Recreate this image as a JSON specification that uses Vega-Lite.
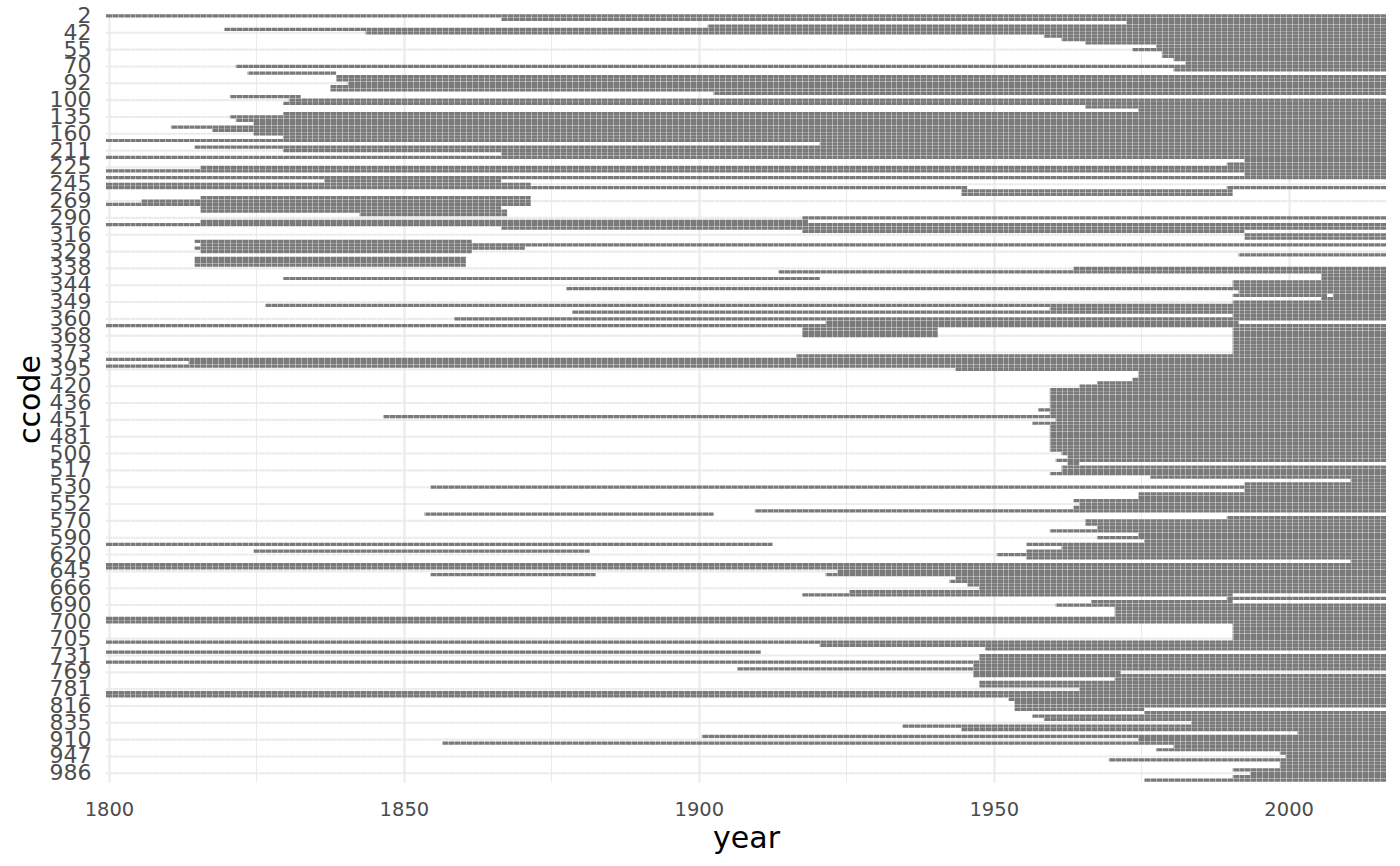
{
  "$schema": "https://vega.github.io/schema/vega-lite/v6.json",
  "autosize": {"type": "none"},
  "padding": {"left": 106, "right": 14, "top": 14, "bottom": 84},
  "width": 1280,
  "height": 768,
  "background": "#ffffff",
  "config": {"view": {"stroke": null}},
  "data": {"values": [
    {"ccode": 2, "start": 1800, "end": 2016},
    {"ccode": 20, "start": 1867, "end": 2016},
    {"ccode": 31, "start": 1973, "end": 2016},
    {"ccode": 40, "start": 1902, "end": 2016},
    {"ccode": 41, "start": 1820, "end": 2016},
    {"ccode": 42, "start": 1844, "end": 2016},
    {"ccode": 51, "start": 1959, "end": 2016},
    {"ccode": 52, "start": 1962, "end": 2016},
    {"ccode": 53, "start": 1966, "end": 2016},
    {"ccode": 54, "start": 1978, "end": 2016},
    {"ccode": 55, "start": 1974, "end": 2016},
    {"ccode": 56, "start": 1979, "end": 2016},
    {"ccode": 57, "start": 1979, "end": 2016},
    {"ccode": 58, "start": 1981, "end": 2016},
    {"ccode": 60, "start": 1983, "end": 2016},
    {"ccode": 70, "start": 1822, "end": 2016},
    {"ccode": 80, "start": 1981, "end": 2016},
    {"ccode": 89, "start": 1824, "end": 1838},
    {"ccode": 90, "start": 1839, "end": 2016},
    {"ccode": 91, "start": 1839, "end": 2016},
    {"ccode": 92, "start": 1841, "end": 2016},
    {"ccode": 93, "start": 1838, "end": 2016},
    {"ccode": 94, "start": 1838, "end": 2016},
    {"ccode": 95, "start": 1903, "end": 2016},
    {"ccode": 99, "start": 1821, "end": 1832},
    {"ccode": 100, "start": 1831, "end": 2016},
    {"ccode": 101, "start": 1830, "end": 2016},
    {"ccode": 110, "start": 1966, "end": 2016},
    {"ccode": 115, "start": 1975, "end": 2016},
    {"ccode": 130, "start": 1830, "end": 2016},
    {"ccode": 135, "start": 1821, "end": 2016},
    {"ccode": 140, "start": 1822, "end": 2016},
    {"ccode": 145, "start": 1825, "end": 2016},
    {"ccode": 150, "start": 1811, "end": 2016},
    {"ccode": 155, "start": 1818, "end": 2016},
    {"ccode": 160, "start": 1825, "end": 2016},
    {"ccode": 165, "start": 1830, "end": 2016},
    {"ccode": 200, "start": 1800, "end": 2016},
    {"ccode": 205, "start": 1921, "end": 2016},
    {"ccode": 210, "start": 1815, "end": 2016},
    {"ccode": 211, "start": 1830, "end": 2016},
    {"ccode": 212, "start": 1867, "end": 2016},
    {"ccode": 220, "start": 1800, "end": 2016},
    {"ccode": 221, "start": 1993, "end": 2016},
    {"ccode": 223, "start": 1990, "end": 2016},
    {"ccode": 225, "start": 1816, "end": 2016},
    {"ccode": 230, "start": 1800, "end": 2016},
    {"ccode": 232, "start": 1993, "end": 2016},
    {"ccode": 235, "start": 1800, "end": 2016},
    {"ccode": 240, "start": 1837, "end": 1866},
    {"ccode": 245, "start": 1800, "end": 1871},
    {"ccode": 255, "start": 1800, "end": 1945},
    {"ccode": 255, "start": 1990, "end": 2016},
    {"ccode": 260, "start": 1945, "end": 1990},
    {"ccode": 265, "start": 1945, "end": 1990},
    {"ccode": 267, "start": 1816, "end": 1871},
    {"ccode": 269, "start": 1806, "end": 1871},
    {"ccode": 271, "start": 1800, "end": 1871},
    {"ccode": 273, "start": 1816, "end": 1866},
    {"ccode": 275, "start": 1816, "end": 1867},
    {"ccode": 280, "start": 1843, "end": 1867},
    {"ccode": 290, "start": 1918, "end": 2016},
    {"ccode": 300, "start": 1816, "end": 1918},
    {"ccode": 305, "start": 1800, "end": 2016},
    {"ccode": 310, "start": 1867, "end": 2016},
    {"ccode": 315, "start": 1918, "end": 1992},
    {"ccode": 316, "start": 1993, "end": 2016},
    {"ccode": 317, "start": 1993, "end": 2016},
    {"ccode": 324, "start": 1815, "end": 1861},
    {"ccode": 325, "start": 1816, "end": 2016},
    {"ccode": 327, "start": 1815, "end": 1870},
    {"ccode": 329, "start": 1816, "end": 1861},
    {"ccode": 331, "start": 1992, "end": 2016},
    {"ccode": 332, "start": 1815, "end": 1860},
    {"ccode": 335, "start": 1815, "end": 1860},
    {"ccode": 337, "start": 1815, "end": 1860},
    {"ccode": 338, "start": 1964, "end": 2016},
    {"ccode": 339, "start": 1914, "end": 2016},
    {"ccode": 341, "start": 2006, "end": 2016},
    {"ccode": 342, "start": 1830, "end": 1920},
    {"ccode": 342, "start": 2006, "end": 2016},
    {"ccode": 343, "start": 1991, "end": 2016},
    {"ccode": 344, "start": 1991, "end": 2016},
    {"ccode": 345, "start": 1878, "end": 2016},
    {"ccode": 346, "start": 1992, "end": 2016},
    {"ccode": 347, "start": 1991, "end": 2006},
    {"ccode": 347, "start": 2008, "end": 2016},
    {"ccode": 348, "start": 2006, "end": 2016},
    {"ccode": 349, "start": 1991, "end": 2016},
    {"ccode": 350, "start": 1827, "end": 2016},
    {"ccode": 352, "start": 1960, "end": 2016},
    {"ccode": 355, "start": 1879, "end": 2016},
    {"ccode": 359, "start": 1991, "end": 2016},
    {"ccode": 360, "start": 1859, "end": 2016},
    {"ccode": 364, "start": 1922, "end": 1991},
    {"ccode": 365, "start": 1800, "end": 2016},
    {"ccode": 366, "start": 1918, "end": 1940},
    {"ccode": 366, "start": 1991, "end": 2016},
    {"ccode": 367, "start": 1918, "end": 1940},
    {"ccode": 367, "start": 1991, "end": 2016},
    {"ccode": 368, "start": 1918, "end": 1940},
    {"ccode": 368, "start": 1991, "end": 2016},
    {"ccode": 369, "start": 1991, "end": 2016},
    {"ccode": 370, "start": 1991, "end": 2016},
    {"ccode": 371, "start": 1991, "end": 2016},
    {"ccode": 372, "start": 1991, "end": 2016},
    {"ccode": 373, "start": 1991, "end": 2016},
    {"ccode": 375, "start": 1917, "end": 2016},
    {"ccode": 380, "start": 1800, "end": 2016},
    {"ccode": 385, "start": 1814, "end": 2016},
    {"ccode": 390, "start": 1800, "end": 2016},
    {"ccode": 395, "start": 1944, "end": 2016},
    {"ccode": 402, "start": 1975, "end": 2016},
    {"ccode": 403, "start": 1975, "end": 2016},
    {"ccode": 404, "start": 1974, "end": 2016},
    {"ccode": 411, "start": 1968, "end": 2016},
    {"ccode": 420, "start": 1965, "end": 2016},
    {"ccode": 432, "start": 1960, "end": 2016},
    {"ccode": 433, "start": 1960, "end": 2016},
    {"ccode": 434, "start": 1960, "end": 2016},
    {"ccode": 435, "start": 1960, "end": 2016},
    {"ccode": 436, "start": 1960, "end": 2016},
    {"ccode": 437, "start": 1960, "end": 2016},
    {"ccode": 438, "start": 1958, "end": 2016},
    {"ccode": 439, "start": 1960, "end": 2016},
    {"ccode": 450, "start": 1847, "end": 2016},
    {"ccode": 451, "start": 1961, "end": 2016},
    {"ccode": 452, "start": 1957, "end": 2016},
    {"ccode": 461, "start": 1960, "end": 2016},
    {"ccode": 471, "start": 1960, "end": 2016},
    {"ccode": 475, "start": 1960, "end": 2016},
    {"ccode": 481, "start": 1960, "end": 2016},
    {"ccode": 482, "start": 1960, "end": 2016},
    {"ccode": 483, "start": 1960, "end": 2016},
    {"ccode": 484, "start": 1960, "end": 2016},
    {"ccode": 490, "start": 1960, "end": 2016},
    {"ccode": 500, "start": 1962, "end": 2016},
    {"ccode": 501, "start": 1963, "end": 2016},
    {"ccode": 510, "start": 1961, "end": 2016},
    {"ccode": 511, "start": 1963, "end": 1964},
    {"ccode": 516, "start": 1962, "end": 2016},
    {"ccode": 517, "start": 1962, "end": 2016},
    {"ccode": 520, "start": 1960, "end": 2016},
    {"ccode": 522, "start": 1977, "end": 2016},
    {"ccode": 525, "start": 2011, "end": 2016},
    {"ccode": 529, "start": 1993, "end": 2016},
    {"ccode": 530, "start": 1855, "end": 2016},
    {"ccode": 531, "start": 1993, "end": 2016},
    {"ccode": 540, "start": 1975, "end": 2016},
    {"ccode": 541, "start": 1975, "end": 2016},
    {"ccode": 551, "start": 1964, "end": 2016},
    {"ccode": 552, "start": 1965, "end": 2016},
    {"ccode": 553, "start": 1964, "end": 2016},
    {"ccode": 560, "start": 1910, "end": 2016},
    {"ccode": 563, "start": 1854, "end": 1902},
    {"ccode": 565, "start": 1990, "end": 2016},
    {"ccode": 570, "start": 1966, "end": 2016},
    {"ccode": 571, "start": 1966, "end": 2016},
    {"ccode": 572, "start": 1968, "end": 2016},
    {"ccode": 580, "start": 1960, "end": 2016},
    {"ccode": 581, "start": 1975, "end": 2016},
    {"ccode": 590, "start": 1968, "end": 2016},
    {"ccode": 591, "start": 1976, "end": 2016},
    {"ccode": 600, "start": 1800, "end": 1912},
    {"ccode": 600, "start": 1956, "end": 2016},
    {"ccode": 615, "start": 1962, "end": 2016},
    {"ccode": 616, "start": 1825, "end": 1881},
    {"ccode": 616, "start": 1956, "end": 2016},
    {"ccode": 620, "start": 1951, "end": 2016},
    {"ccode": 625, "start": 1956, "end": 2016},
    {"ccode": 626, "start": 2011, "end": 2016},
    {"ccode": 630, "start": 1800, "end": 2016},
    {"ccode": 640, "start": 1800, "end": 2016},
    {"ccode": 645, "start": 1924, "end": 2016},
    {"ccode": 651, "start": 1855, "end": 1882},
    {"ccode": 651, "start": 1922, "end": 2016},
    {"ccode": 652, "start": 1944, "end": 2016},
    {"ccode": 660, "start": 1943, "end": 2016},
    {"ccode": 663, "start": 1946, "end": 2016},
    {"ccode": 666, "start": 1948, "end": 2016},
    {"ccode": 670, "start": 1926, "end": 2016},
    {"ccode": 678, "start": 1918, "end": 1990},
    {"ccode": 679, "start": 1990, "end": 2016},
    {"ccode": 680, "start": 1967, "end": 1990},
    {"ccode": 690, "start": 1961, "end": 2016},
    {"ccode": 692, "start": 1971, "end": 2016},
    {"ccode": 694, "start": 1971, "end": 2016},
    {"ccode": 696, "start": 1971, "end": 2016},
    {"ccode": 698, "start": 1800, "end": 2016},
    {"ccode": 700, "start": 1800, "end": 2016},
    {"ccode": 701, "start": 1991, "end": 2016},
    {"ccode": 702, "start": 1991, "end": 2016},
    {"ccode": 703, "start": 1991, "end": 2016},
    {"ccode": 704, "start": 1991, "end": 2016},
    {"ccode": 705, "start": 1991, "end": 2016},
    {"ccode": 710, "start": 1800, "end": 2016},
    {"ccode": 712, "start": 1921, "end": 2016},
    {"ccode": 713, "start": 1949, "end": 2016},
    {"ccode": 730, "start": 1800, "end": 1910},
    {"ccode": 731, "start": 1948, "end": 2016},
    {"ccode": 732, "start": 1948, "end": 2016},
    {"ccode": 740, "start": 1800, "end": 2016},
    {"ccode": 750, "start": 1947, "end": 2016},
    {"ccode": 760, "start": 1907, "end": 2016},
    {"ccode": 769, "start": 1947, "end": 1971},
    {"ccode": 770, "start": 1947, "end": 2016},
    {"ccode": 771, "start": 1971, "end": 2016},
    {"ccode": 775, "start": 1948, "end": 2016},
    {"ccode": 780, "start": 1948, "end": 2016},
    {"ccode": 781, "start": 1965, "end": 2016},
    {"ccode": 790, "start": 1800, "end": 2016},
    {"ccode": 800, "start": 1800, "end": 2016},
    {"ccode": 811, "start": 1953, "end": 2016},
    {"ccode": 812, "start": 1954, "end": 2016},
    {"ccode": 816, "start": 1954, "end": 2016},
    {"ccode": 817, "start": 1954, "end": 1975},
    {"ccode": 818, "start": 1976, "end": 2016},
    {"ccode": 820, "start": 1957, "end": 2016},
    {"ccode": 830, "start": 1959, "end": 2016},
    {"ccode": 835, "start": 1984, "end": 2016},
    {"ccode": 840, "start": 1935, "end": 2016},
    {"ccode": 850, "start": 1945, "end": 2016},
    {"ccode": 860, "start": 2002, "end": 2016},
    {"ccode": 900, "start": 1901, "end": 2016},
    {"ccode": 910, "start": 1975, "end": 2016},
    {"ccode": 920, "start": 1857, "end": 2016},
    {"ccode": 935, "start": 1981, "end": 2016},
    {"ccode": 940, "start": 1978, "end": 2016},
    {"ccode": 946, "start": 1999, "end": 2016},
    {"ccode": 947, "start": 2000, "end": 2016},
    {"ccode": 950, "start": 1970, "end": 2016},
    {"ccode": 955, "start": 1999, "end": 2016},
    {"ccode": 970, "start": 1999, "end": 2016},
    {"ccode": 983, "start": 1991, "end": 2016},
    {"ccode": 986, "start": 1994, "end": 2016},
    {"ccode": 987, "start": 1991, "end": 2016},
    {"ccode": 990, "start": 1976, "end": 2016}
  ]},
  "layer": [
    {
      "transform": [{"filter": {"field": "ccode", "oneOf": [2,42,55,70,92,100,135,160,211,225,245,269,290,316,329,338,344,349,360,368,373,395,420,436,451,481,500,517,530,552,570,590,620,645,666,690,700,705,731,769,781,816,835,910,947,986]}}],
      "mark": {"type": "rule", "color": "#EBEBEB", "strokeWidth": 2.1},
      "encoding": {"y": {"field": "ccode", "type": "ordinal"}}
    },
    {
      "mark": {"type": "rect", "fill": "#7a7a7a", "xOffset": -2.95, "x2Offset": 2.95},
      "encoding": {
        "y": {
          "field": "ccode", "type": "ordinal", "title": "ccode",
          "scale": {"domain": [2,20,31,40,41,42,51,52,53,54,55,56,57,58,60,70,80,89,90,91,92,93,94,95,99,100,101,110,115,130,135,140,145,150,155,160,165,200,205,210,211,212,220,221,223,225,230,232,235,240,245,255,260,265,267,269,271,273,275,280,290,300,305,310,315,316,317,324,325,327,329,331,332,335,337,338,339,341,342,343,344,345,346,347,348,349,350,352,355,359,360,364,365,366,367,368,369,370,371,372,373,375,380,385,390,395,402,403,404,411,420,432,433,434,435,436,437,438,439,450,451,452,461,471,475,481,482,483,484,490,500,501,510,511,516,517,520,522,525,529,530,531,540,541,551,552,553,560,563,565,570,571,572,580,581,590,591,600,615,616,620,625,626,630,640,645,651,652,660,663,666,670,678,679,680,690,692,694,696,698,700,701,702,703,704,705,710,712,713,730,731,732,740,750,760,769,770,771,775,780,781,790,800,811,812,816,817,818,820,830,835,840,850,860,900,910,920,935,940,946,947,950,955,970,983,986,987,990],
                    "paddingInner": 0.04, "paddingOuter": 0.1},
          "axis": {
            "values": [2,42,55,70,92,100,135,160,211,225,245,269,290,316,329,338,344,349,360,368,373,395,420,436,451,481,500,517,530,552,570,590,620,645,666,690,700,705,731,769,781,816,835,910,947,986],
            "ticks": false, "domain": false, "grid": false, "zindex": 0,
            "labelOverlap": false, "labelPadding": 15,
            "labelFont": "DejaVu Sans", "labelFontSize": 22, "labelColor": "#4D4D4D",
            "titleFont": "DejaVu Sans", "titleFontSize": 30, "titleFontWeight": "normal", "titleColor": "#000000",
            "titleX": -76, "titleY": 385, "titleAngle": -90, "titleBaseline": "middle", "titleAlign": "center"
          }
        },
        "x": {
          "field": "start", "type": "quantitative", "title": "year",
          "scale": {"domain": [1799.5, 2016.5], "nice": false, "zero": false},
          "axis": {
            "values": [1800,1825,1850,1875,1900,1925,1950,1975,2000],
            "format": "d",
            "labelExpr": "datum.value % 50 === 0 ? datum.label : ''",
            "labelFlush": false, "labelOverlap": false,
            "ticks": false, "domain": false, "grid": true, "zindex": 0,
            "gridColor": "#EBEBEB",
            "gridWidth": {"condition": {"test": "datum.value % 50 === 0", "value": 2.1}, "value": 1.05},
            "labelPadding": 18,
            "labelFont": "DejaVu Sans", "labelFontSize": 19.5, "labelColor": "#4D4D4D",
            "titleFont": "DejaVu Sans", "titleFontSize": 30, "titleFontWeight": "normal", "titleColor": "#000000",
            "titleX": 640, "titleY": 56, "titleBaseline": "middle", "titleAlign": "center"
          }
        },
        "x2": {"field": "end"}
      }
    },
    {
      "mark": {"type": "rect", "opacity": 0, "xOffset": -2.95, "x2Offset": 2.95},
      "encoding": {
        "x": {
          "field": "start", "type": "quantitative",
          "axis": {
            "orient": "top", "labels": false, "ticks": false, "domain": false, "title": null,
            "grid": true, "gridColor": "#ffffff", "gridOpacity": 0.4, "gridWidth": 1, "zindex": 1,
            "values": [1800.5,1801.5,1802.5,1803.5,1804.5,1805.5,1806.5,1807.5,1808.5,1809.5,1810.5,1811.5,1812.5,1813.5,1814.5,1815.5,1816.5,1817.5,1818.5,1819.5,1820.5,1821.5,1822.5,1823.5,1824.5,1825.5,1826.5,1827.5,1828.5,1829.5,1830.5,1831.5,1832.5,1833.5,1834.5,1835.5,1836.5,1837.5,1838.5,1839.5,1840.5,1841.5,1842.5,1843.5,1844.5,1845.5,1846.5,1847.5,1848.5,1849.5,1850.5,1851.5,1852.5,1853.5,1854.5,1855.5,1856.5,1857.5,1858.5,1859.5,1860.5,1861.5,1862.5,1863.5,1864.5,1865.5,1866.5,1867.5,1868.5,1869.5,1870.5,1871.5,1872.5,1873.5,1874.5,1875.5,1876.5,1877.5,1878.5,1879.5,1880.5,1881.5,1882.5,1883.5,1884.5,1885.5,1886.5,1887.5,1888.5,1889.5,1890.5,1891.5,1892.5,1893.5,1894.5,1895.5,1896.5,1897.5,1898.5,1899.5,1900.5,1901.5,1902.5,1903.5,1904.5,1905.5,1906.5,1907.5,1908.5,1909.5,1910.5,1911.5,1912.5,1913.5,1914.5,1915.5,1916.5,1917.5,1918.5,1919.5,1920.5,1921.5,1922.5,1923.5,1924.5,1925.5,1926.5,1927.5,1928.5,1929.5,1930.5,1931.5,1932.5,1933.5,1934.5,1935.5,1936.5,1937.5,1938.5,1939.5,1940.5,1941.5,1942.5,1943.5,1944.5,1945.5,1946.5,1947.5,1948.5,1949.5,1950.5,1951.5,1952.5,1953.5,1954.5,1955.5,1956.5,1957.5,1958.5,1959.5,1960.5,1961.5,1962.5,1963.5,1964.5,1965.5,1966.5,1967.5,1968.5,1969.5,1970.5,1971.5,1972.5,1973.5,1974.5,1975.5,1976.5,1977.5,1978.5,1979.5,1980.5,1981.5,1982.5,1983.5,1984.5,1985.5,1986.5,1987.5,1988.5,1989.5,1990.5,1991.5,1992.5,1993.5,1994.5,1995.5,1996.5,1997.5,1998.5,1999.5,2000.5,2001.5,2002.5,2003.5,2004.5,2005.5,2006.5,2007.5,2008.5,2009.5,2010.5,2011.5,2012.5,2013.5,2014.5,2015.5]
          }
        },
        "x2": {"field": "end"}
      }
    }
  ],
  "resolve": {"axis": {"x": "independent"}}
}
